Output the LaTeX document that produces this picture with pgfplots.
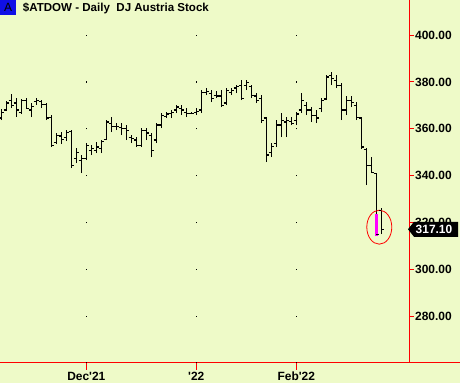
\documentclass[border=0pt]{standalone}
\usepackage{pgfplots}
\pgfplotsset{compat=1.18}
\usepackage{pgfplotstable}
\usepackage{fontspec}
\setmainfont{Liberation Sans}
\definecolor{bg}{RGB}{238,250,200}
\definecolor{boxblue}{RGB}{16,16,230}
\definecolor{mag}{RGB}{255,0,255}
\pgfdeclareplotmark{ohlcopen}{\pgfpathmoveto{\pgfpoint{-2.6bp}{0bp}}\pgfpathlineto{\pgfpoint{0bp}{0bp}}\pgfusepathqstroke}
\pgfdeclareplotmark{ohlcclose}{\pgfpathmoveto{\pgfpoint{0bp}{0bp}}\pgfpathlineto{\pgfpoint{2.6bp}{0bp}}\pgfusepathqstroke}
% BL = low end of the black part of the bar (the last-but-one bar is highlighted in magenta below 323.6)
\pgfplotstableread{
x H L O C BL
0 368.4 363.7 364.6 367.1 363.7
1 371.8 367.5 368.0 371.0 367.5
2 374.8 368.8 372.2 370.1 368.8
3 373.1 365.0 371.0 368.0 365.0
4 372.7 366.3 367.1 372.2 366.3
5 373.1 368.8 372.2 368.8 368.8
6 371.0 365.0 368.0 369.7 365.0
7 373.1 370.1 371.8 372.2 370.1
8 372.2 368.8 371.8 370.5 368.8
9 371.0 363.7 370.5 364.6 363.7
10 365.8 352.2 365.0 353.0 352.2
11 358.2 353.5 354.3 357.3 353.5
12 358.6 353.5 356.9 355.6 353.5
13 359.4 354.7 356.4 358.6 354.7
14 359.4 343.2 359.0 344.5 343.2
15 351.7 345.3 347.5 350.0 345.3
16 348.8 341.1 346.6 347.5 341.1
17 353.9 346.6 347.5 353.0 346.6
18 353.0 348.8 350.9 351.7 348.8
19 354.3 349.6 350.9 352.2 349.6
20 355.2 349.6 351.7 354.7 349.6
21 363.7 355.2 355.6 362.9 355.2
22 365.0 358.6 362.4 361.1 358.6
23 362.4 359.4 361.1 361.1 359.4
24 362.4 357.3 360.7 360.3 357.3
25 361.6 355.2 360.3 359.4 355.2
26 357.3 353.9 356.4 356.0 353.9
27 356.4 352.2 355.2 353.0 352.2
28 360.3 352.2 353.0 359.4 352.2
29 360.3 355.2 359.4 358.2 355.2
30 358.2 347.9 357.3 350.9 347.9
31 362.4 353.9 355.2 361.6 353.9
32 366.7 360.3 361.6 365.8 360.3
33 367.1 364.6 365.4 366.3 364.6
34 368.0 364.6 366.7 367.1 364.6
35 370.1 366.7 368.0 369.3 366.7
36 370.1 365.8 368.8 368.0 365.8
37 368.8 365.0 367.1 366.7 365.0
38 367.1 366.3 366.7 366.7 366.3
39 368.8 365.8 367.1 367.5 365.8
40 376.5 366.7 368.0 375.6 366.7
41 377.4 374.4 375.6 376.1 374.4
42 376.5 371.4 375.2 373.1 371.4
43 376.1 373.1 374.4 374.0 373.1
44 376.5 369.3 374.0 370.1 369.3
45 377.4 370.1 371.0 376.5 370.1
46 377.4 374.4 375.6 376.5 374.4
47 378.6 375.2 377.4 378.2 375.2
48 380.8 372.2 378.6 373.1 372.2
49 380.8 376.5 378.6 379.9 376.5
50 378.6 373.1 378.2 374.4 373.1
51 375.2 371.0 374.0 372.2 371.0
52 374.4 362.4 373.1 363.7 362.4
53 365.0 345.8 364.6 348.8 345.8
54 353.9 347.9 350.0 352.6 347.9
55 363.7 352.2 353.9 361.6 352.2
56 366.7 356.4 361.6 363.7 356.4
57 365.0 356.4 362.9 363.7 356.4
58 365.0 361.6 363.3 362.4 361.6
59 367.1 361.6 363.7 366.3 361.6
60 375.2 366.7 368.0 372.2 366.7
61 371.4 365.8 370.1 368.0 365.8
62 369.3 362.9 368.0 365.8 362.9
63 368.0 362.4 365.8 364.6 362.4
64 373.1 367.1 368.8 372.2 367.1
65 382.9 372.2 372.7 382.1 372.2
66 384.2 378.6 382.9 381.6 378.6
67 382.9 377.4 380.8 378.6 377.4
68 379.5 363.7 378.6 368.0 363.7
69 374.0 365.8 368.0 372.2 365.8
70 374.0 369.3 372.2 371.4 369.3
71 371.4 363.7 370.1 365.0 363.7
72 365.0 351.3 364.6 352.2 351.3
73 351.7 336.0 351.3 344.5 336.0
74 347.9 341.1 344.5 341.2 341.1
75 341.1 314.2 341.0 315.0 323.6
76 326.1 315.0 325.0 317.1 315.0
}\bars
\begin{document}
\begin{tikzpicture}
\useasboundingbox (0bp,0bp) rectangle (460bp,383bp);
\fill[bg] (0bp,0bp) rectangle (460bp,383bp);
\begin{axis}[
  at={(0bp,20bp)}, anchor=south west,
  scale only axis, width=410bp, height=363bp,
  xmin=-0.26, xmax=81.74, ymin=260, ymax=415,
  axis x line*=bottom, axis y line*=right,
  axis line style={red, line width=1bp},
  x axis line style={shorten >=-50bp},
  tick align=outside,
  major tick length=4bp, minor tick length=2.5bp,
  tick style={red, line width=1bp},
  xtick=\empty,
  minor xtick={1,6,11,15,20,25,30,34,39,44,49,53,58,63,68,73,77},
  extra x ticks={17,39,59},
  extra x tick labels={Dec\textquotesingle21,\textquotesingle22,Feb\textquotesingle22},
  extra x tick style={major tick length=6.5bp, grid=major,
     major grid style={draw=black, line width=1.2bp, dash pattern=on 1.2bp off 45.64bp, dash phase=0.6bp}},
  xticklabel style={font=\bfseries\fontsize{12}{12}\selectfont, inner sep=0.8bp, text=black, yshift=-1.5bp},
  ytick={280,300,...,400},
  yticklabel style={font=\bfseries\fontsize{12}{12}\selectfont, inner sep=1bp, text=black,
     /pgf/number format/.cd, fixed, fixed zerofill, precision=2, assume math mode=true},
  clip=false,
]
\addplot[draw=none, mark=none, forget plot,
  error bars/.cd, y dir=plus, y explicit, error mark=none,
  error bar style={draw=black, line width=1.15bp}]
  table[x=x, y=BL, y error expr=\thisrow{H}-\thisrow{BL}] {\bars};
\addplot[only marks, mark=ohlcopen, black, mark options={line width=1.15bp}] table[x=x, y=O] {\bars};
\addplot[only marks, mark=ohlcclose, black, mark options={line width=1.15bp}] table[x=x, y=C] {\bars};
\addplot[mag, line width=3bp, mark=none] coordinates {(75,314.2) (75,323.6)};
\draw[red, line width=0.8bp] (axis cs:75.6,318) ellipse [x radius=12.5bp, y radius=17bp];
\end{axis}
\fill[black] (408bp,153.7bp) -- (414bp,161.2bp) -- (458bp,161.2bp) -- (458bp,146.2bp) -- (414bp,146.2bp) -- cycle;
\node[white, inner sep=0, font=\bfseries\fontsize{12}{12}\selectfont] at (434bp,153.7bp) {317.10};
\fill[boxblue] (0bp,368bp) rectangle (16bp,383bp);
\node[anchor=base, inner sep=0, text=black, font=\fontsize{12}{12}\selectfont] at (8bp,371bp) {A};
\node[anchor=base west, inner sep=0, font=\bfseries\fontsize{11.6}{12}\selectfont] at (22.7bp,371bp) {\$ATDOW - Daily\ \ DJ Austria Stock};
\end{tikzpicture}
\end{document}
